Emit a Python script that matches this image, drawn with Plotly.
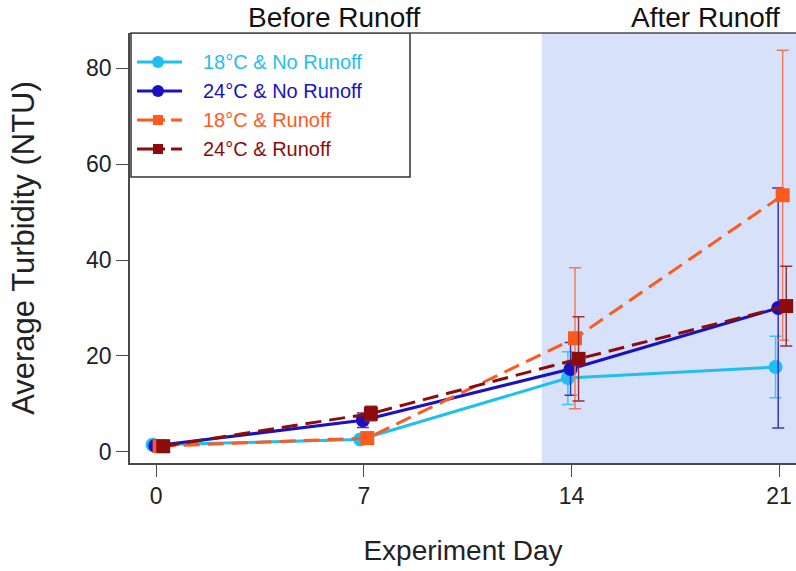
import plotly.graph_objects as go

# ---- data ----
days = [0, 7, 14, 21]
series_names = ["18°C & No Runoff", "24°C & No Runoff", "18°C & Runoff", "24°C & Runoff"]
mean_18_norunoff = [1.5, 2.6, 15.4, 17.7]
err_18_norunoff = [0.4, 0.6, 5.5, 6.4]
mean_24_norunoff = [1.3, 6.6, 17.3, 30.0]
err_24_norunoff = [0.4, 1.5, 5.5, 25.0]
mean_18_runoff = [1.2, 2.9, 23.7, 53.5]
err_18_runoff = [0.4, 0.8, 14.7, 30.2]
mean_24_runoff = [1.2, 8.0, 19.4, 30.4]
err_24_runoff = [0.4, 1.5, 8.8, 8.3]
runoff_start_day = 13
x_ticks = [0, 7, 14, 21]
y_ticks = [0, 20, 40, 60, 80]

# ---- styles ----
colors = ["#1fbff2", "#1a12c2", "#ff5a1e", "#8c0c0c"]
err_colors = ["#3cc6f2", "#3a33c8", "#f27a5c", "#9a3030"]
dashes = ["solid", "solid", "dash", "dash"]
symbols = ["circle", "circle", "square", "square"]
jitter = [-0.12, -0.03, 0.12, 0.24]
means = [mean_18_norunoff, mean_24_norunoff, mean_18_runoff, mean_24_runoff]
errs = [err_18_norunoff, err_24_norunoff, err_18_runoff, err_24_runoff]

FONT = "Liberation Sans, Arial, sans-serif"
AX = "#4a4a4a"
L, R, T, B, W, H = 130, 0, 33, 108, 796, 571
PW, PH = W - L - R, H - T - B

fig = go.Figure()

for i in range(4):
    fig.add_trace(go.Scatter(
        x=[d + jitter[i] for d in days], y=means[i],
        mode="lines+markers",
        line=dict(color=colors[i], width=3, dash="solid" if dashes[i] == "solid" else "16px,8px"),
        marker=dict(symbol=symbols[i], size=14, color=colors[i]),
        error_y=dict(type="data", array=errs[i], visible=True,
                     color=err_colors[i], thickness=1.5, width=6),
        showlegend=False, name=series_names[i]))

# ---- manual legend on pixel overlay axes ----
row_y = [62, 91, 120, 149]
for i in range(4):
    fig.add_trace(go.Scatter(
        x=[137, 182], y=[row_y[i], row_y[i]], xaxis="x2", yaxis="y2",
        mode="lines", line=dict(color=colors[i], width=3,
                                dash="solid" if dashes[i] == "solid" else "28px,6px"),
        showlegend=False, hoverinfo="skip"))
    fig.add_trace(go.Scatter(
        x=[158], y=[row_y[i]], xaxis="x2", yaxis="y2", mode="markers",
        marker=dict(symbol=symbols[i], size=12 if symbols[i] == "circle" else 10, color=colors[i]),
        showlegend=False, hoverinfo="skip"))
    fig.add_annotation(x=201, y=row_y[i], xref="x2", yref="y2", text=series_names[i],
                       showarrow=False, xanchor="left", yanchor="middle",
                       font=dict(family=FONT, size=20, color=colors[i]))

fig.add_shape(type="rect", xref="x2", yref="y2", x0=131, x1=410, y0=33, y1=177,
              line=dict(color="#333333", width=1.5), fillcolor="rgba(0,0,0,0)", layer="above")

# shaded after-runoff region
fig.add_shape(type="rect", xref="x", yref="paper", x0=runoff_start_day, x1=22.5, y0=0, y1=1,
              fillcolor="#d7e2fa", line=dict(width=0), layer="below")
# top box line
fig.add_shape(type="line", xref="paper", yref="paper", x0=0, x1=1, y0=1, y1=1,
              line=dict(color=AX, width=1.5), layer="above")

def px_x(p):
    return (p - L) / PW

def px_y(p):
    return (H - B - p) / PH

fig.add_annotation(x=px_x(334), y=px_y(18), xref="paper", yref="paper", text="Before Runoff",
                   showarrow=False, xanchor="center", yanchor="middle",
                   font=dict(family=FONT, size=28, color="#111"))
fig.add_annotation(x=px_x(705), y=px_y(18), xref="paper", yref="paper", text="After Runoff",
                   showarrow=False, xanchor="center", yanchor="middle",
                   font=dict(family=FONT, size=28, color="#111"))

fig.update_layout(
    width=W, height=H,
    margin=dict(l=L, r=R, t=T, b=B),
    plot_bgcolor="white", paper_bgcolor="white",
    font=dict(family=FONT, color="#222"),
    xaxis=dict(range=[-0.88, 21.57], tickvals=x_ticks, ticks="outside", ticklen=12,
               tickcolor=AX, tickwidth=1.2, showgrid=False, zeroline=False,
               showline=True, linecolor=AX, linewidth=1.5,
               tickfont=dict(size=23, family=FONT, color="#222"),
               title=dict(text="Experiment Day", font=dict(size=28, family=FONT, color="#222"), standoff=32)),
    yaxis=dict(range=[-2.3, 87.3], tickvals=y_ticks, ticks="outside", ticklen=12,
               tickcolor=AX, tickwidth=1.2, showgrid=False, zeroline=False,
               showline=True, linecolor=AX, linewidth=1.5,
               tickfont=dict(size=23, family=FONT, color="#222"),
               title=dict(text="Average Turbidity (NTU)", font=dict(size=31, family=FONT, color="#222"), standoff=42)),
    xaxis2=dict(range=[130, 796], overlaying="x", visible=False, fixedrange=True),
    yaxis2=dict(range=[463, 33], overlaying="y", visible=False, fixedrange=True),
)

fig.write_html("out.html")
